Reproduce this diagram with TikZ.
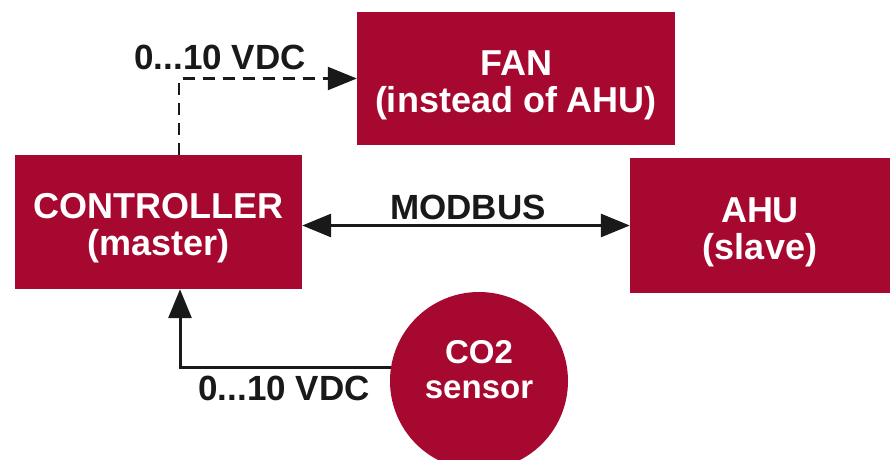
\documentclass[tikz,border=0pt]{standalone}
\usepackage{fontspec}
\setmainfont{Liberation Sans}
\usetikzlibrary{arrows.meta, calc}
\definecolor{boxred}{RGB}{166,8,48}
\tikzset{unit/.style={rectangle,fill=boxred,text=white,font=\bfseries\fontsize{36}{37}\selectfont,align=center,inner sep=0pt,text height=75pt,text depth=8pt},
    sensor/.style={circle,fill=boxred,text=white,font=\bfseries\fontsize{33}{35}\selectfont,align=center,inner sep=0pt,minimum size=178pt,text height=40pt,text depth=6pt},
    signal/.style={font=\bfseries\fontsize{35}{35}\selectfont,text=black!90,anchor=base,inner sep=0pt},
    wire/.style={draw=black!90,line width=3pt,-{Triangle[length=29pt,width=23pt]}},
    dashed wire/.style={wire,line width=2.2pt,dash pattern=on 12pt off 8pt}}

\begin{document}
\begin{tikzpicture}[x=1pt,y=-1pt]
\useasboundingbox (0,0) rectangle (891,460);

% Draw the units
\node[unit,minimum width=287pt,minimum height=134pt] (ctrl) at (158.5,222) {CONTROLLER\\(master)};
\node[unit,minimum width=318pt,minimum height=133pt] (fan) at (516,78.5) {FAN\\(instead of AHU)};
\node[unit,minimum width=260pt,minimum height=135pt] (ahu) at (760,225.5) {AHU\\(slave)};

% Draw the sensor
\node[sensor] (co2) at (479,381) {CO2\\sensor};

% Label the signals
\node[signal] (fansig) at (220,70) {0...10 VDC};
\node[signal] (bus) at (468,219) {MODBUS};
\node[signal] (co2sig) at (284,400) {0...10 VDC};

% Connect the units
\draw[dashed wire] ([xshift=20.5pt]ctrl.north) |- (fan.west);
\draw[wire,{Triangle[length=29pt,width=23pt]}-{Triangle[length=29pt,width=23pt]}] (ahu.west -| ctrl.east) -- (ahu.west);
\draw[wire] (co2.171) -| ([xshift=21.5pt]ctrl.south);
\end{tikzpicture}
\end{document}
